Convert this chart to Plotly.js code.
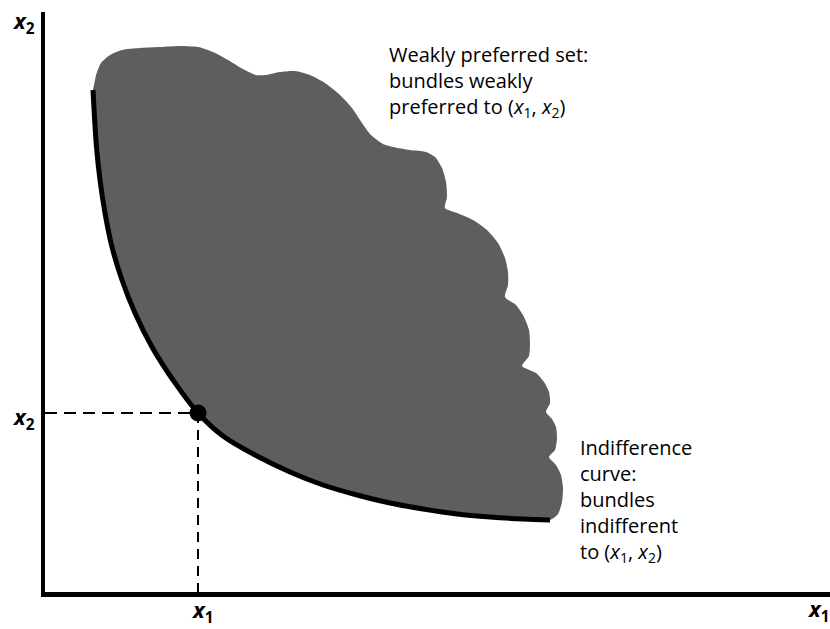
<!DOCTYPE html>
<html>
<head>
<meta charset="utf-8">
<script src="https://cdn.plot.ly/plotly-3.0.1.min.js"></script>
<style>
  html, body { margin: 0; padding: 0; background: #ffffff; }
  #chart { width: 830px; height: 629px; }
</style>
</head>
<body>
<div id="chart"></div>
<script>
// Indifference curve through the bundle (x1, x2)
const curveX = [48, 51.5, 55, 60, 67, 77, 90, 107, 128, 153, 178, 212, 245, 278, 312, 345, 378, 412, 445, 478, 505];
const curveY = [502, 445, 412, 379, 345, 312, 279, 245, 212, 179, 156, 136, 120, 107, 97, 89, 83, 78, 75, 73, 72];

// Outer (scalloped) edge of the weakly preferred set, from the curve's lower end back to its upper end
const edgeX = [513, 517, 518, 516, 511, 504, 510, 512, 511, 507, 501, 505, 504, 499, 491, 477, 484, 485, 484, 479, 471, 460,
               463, 463, 460, 453, 442, 428, 412, 400, 402, 401, 397, 390, 381, 365, 348, 338, 326, 317, 307, 295, 280, 265,
               250, 235, 221, 211, 198, 183, 168, 153, 135, 115, 95, 77, 65, 56, 51];
const edgeY = [78, 90, 104, 117, 127, 135, 142, 154, 165, 173, 180, 189, 200, 210, 219, 226, 236, 249, 262, 275, 287, 295,
               307, 320, 334, 349, 362, 372, 379, 384, 395, 410, 424, 435, 440, 442, 445, 448, 457, 469, 484, 497, 509, 517,
               521, 520, 517, 517, 523, 532, 540, 545, 546, 545, 544, 542, 537, 529, 517];

// The chosen bundle
const bundleX = [153];
const bundleY = [179];

// Axis range
const xRange = [0, 785];
const yRange = [0, 580];

const fontFam = '"Open Sans", Lato, "DejaVu Sans", sans-serif';

const polyX = curveX.concat(edgeX);
const polyY = curveY.concat(edgeY);

const traces = [
  {
    type: 'scatter', mode: 'lines',
    x: polyX, y: polyY,
    fill: 'toself', fillcolor: '#5e5e5e',
    line: { width: 0, shape: 'spline', smoothing: 0.65, color: '#5e5e5e' },
    hoverinfo: 'skip'
  },
  {
    type: 'scatter', mode: 'lines',
    x: [0, bundleX[0]], y: [bundleY[0], bundleY[0]],
    line: { color: '#000', width: 2, dash: '12px,7px' },
    hoverinfo: 'skip'
  },
  {
    type: 'scatter', mode: 'lines',
    x: [bundleX[0], bundleX[0]], y: [bundleY[0], 0],
    line: { color: '#000', width: 2, dash: '10px,7px' },
    hoverinfo: 'skip'
  },
  {
    type: 'scatter', mode: 'lines',
    x: curveX, y: curveY,
    line: { color: '#000', width: 5, shape: 'spline', smoothing: 1 },
    hoverinfo: 'skip'
  },
  {
    type: 'scatter', mode: 'markers',
    x: bundleX, y: bundleY,
    marker: { color: '#000', size: 17 },
    cliponaxis: false,
    hoverinfo: 'skip'
  }
];

const lab = (t) => '<i>' + t + '</i>';
const annFont = { family: fontFam, size: 20, color: '#000' };
const axFont = { family: '"Open Sans", "DejaVu Sans", sans-serif', size: 22, color: '#000' };
const axLab = (n) => '<b><i>x</i><sub>' + n + '</sub></b>';

const layout = {
  width: 830, height: 629,
  margin: { l: 45, r: 0, t: 12, b: 37 },
  paper_bgcolor: '#ffffff', plot_bgcolor: '#ffffff',
  showlegend: false,
  xaxis: {
    range: xRange, showline: true, linewidth: 5, linecolor: '#000',
    showgrid: false, zeroline: false, showticklabels: false, ticks: '', fixedrange: true
  },
  yaxis: {
    range: yRange, showline: true, linewidth: 4, linecolor: '#000',
    showgrid: false, zeroline: false, showticklabels: false, ticks: '', fixedrange: true
  },
  annotations: [
    { x: 342, y: 553, xref: 'x', yref: 'y', xanchor: 'left', yanchor: 'top', align: 'left', showarrow: false,
      text: 'Weakly preferred set:<br>bundles weakly<br>preferred to (' + lab('x') + '<sub>1</sub>, ' + lab('x') + '<sub>2</sub>)',
      font: annFont },
    { x: 533, y: 160, xref: 'x', yref: 'y', xanchor: 'left', yanchor: 'top', align: 'left', showarrow: false,
      text: 'Indifference<br>curve:<br>bundles<br>indifferent<br>to (' + lab('x') + '<sub>1</sub>, ' + lab('x') + '<sub>2</sub>)',
      font: annFont },
    { x: -0.027, y: 0.983, xref: 'paper', yref: 'paper', xanchor: 'center', yanchor: 'middle', showarrow: false,
      text: axLab(2), font: axFont },
    { x: -0.028, y: 0.30, xref: 'paper', yref: 'paper', xanchor: 'center', yanchor: 'middle', showarrow: false,
      text: axLab(2), font: axFont },
    { x: 0.20, y: -0.033, xref: 'paper', yref: 'paper', xanchor: 'center', yanchor: 'middle', showarrow: false,
      text: axLab(1), font: axFont },
    { x: 0.985, y: -0.031, xref: 'paper', yref: 'paper', xanchor: 'center', yanchor: 'middle', showarrow: false,
      text: axLab(1), font: axFont }
  ]
};

Plotly.newPlot('chart', traces, layout, { staticPlot: true, displayModeBar: false });
</script>
</body>
</html>
